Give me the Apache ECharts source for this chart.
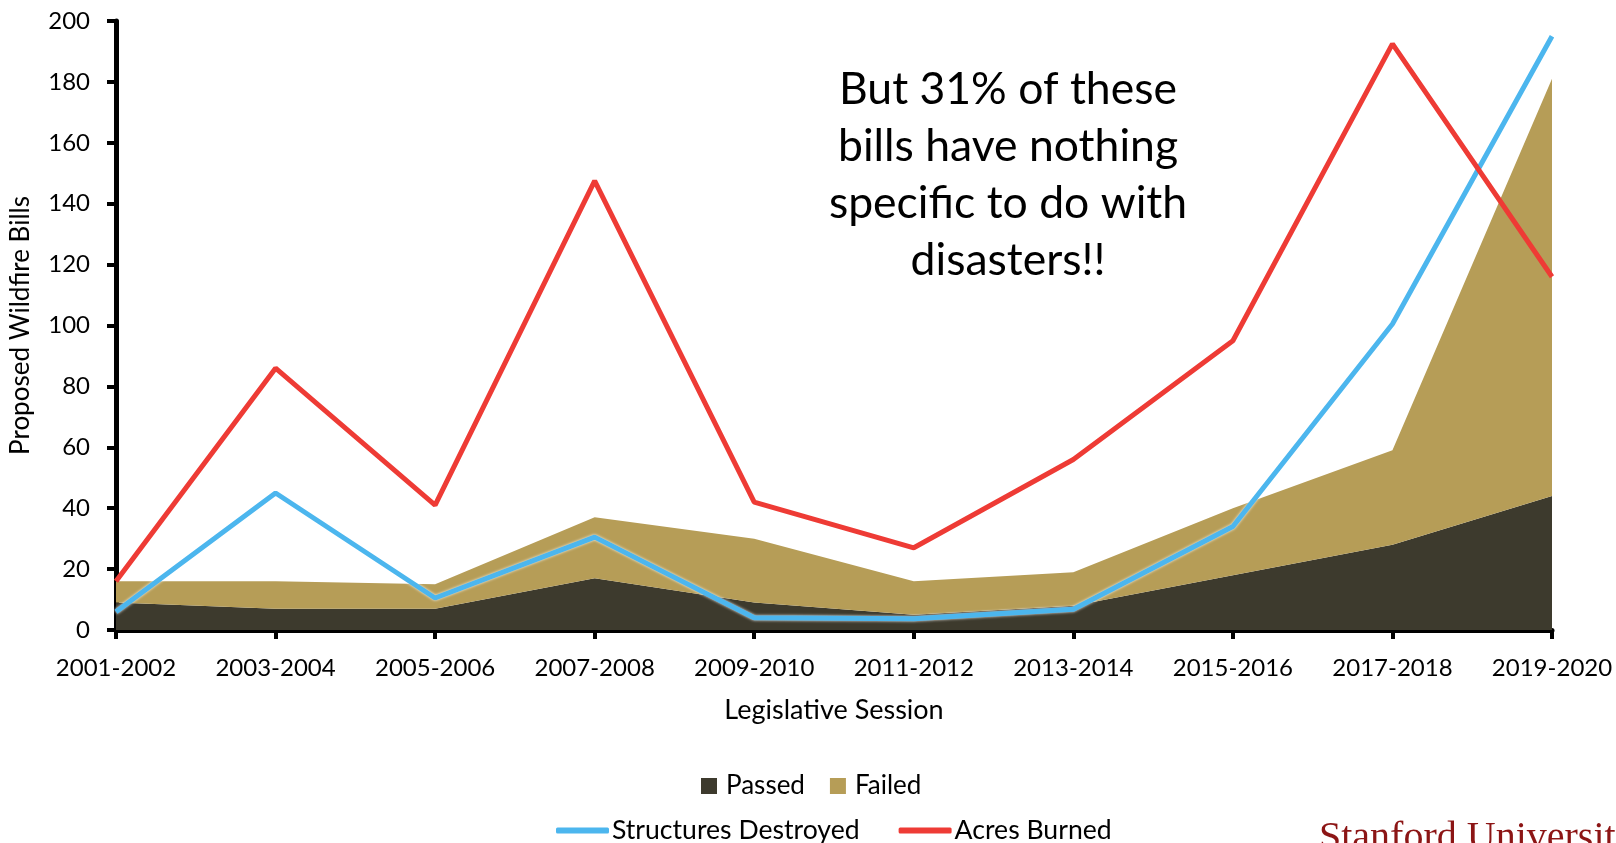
<!DOCTYPE html>
<html>
<head>
<meta charset="utf-8">
<script src="https://cdn.jsdelivr.net/npm/echarts@6/dist/echarts.min.js"></script>
<style>
html,body{margin:0;padding:0;background:#fff;}
#chart{width:1616px;height:843px;}
</style>
</head>
<body>
<div id="chart"></div>
<script>
const sessions = ['2001-2002','2003-2004','2005-2006','2007-2008','2009-2010','2011-2012','2013-2014','2015-2016','2017-2018','2019-2020'];
const passed = [9, 7, 7, 17, 9, 5, 8, 18, 28, 44];
const failed = [7, 9, 8, 20, 21, 11, 11, 22, 31, 137];
const structuresDestroyed = [6, 45, 10.5, 30.5, 4, 3.7, 6.8, 34, 100.5, 195];
const acresBurned = [16, 86, 41, 147.5, 42, 27, 56, 95, 192.5, 116];
const yTicks = {min: 0, max: 200, interval: 20};
const note = 'But 31% of these\nbills have nothing\nspecific to do with\ndisasters!!';

const FONT = 'Lato';
const chart = echarts.init(document.getElementById('chart'));
chart.setOption({
  backgroundColor: '#ffffff',
  animation: false,
  textStyle: {fontFamily: FONT},
  grid: {left: 116, right: 64, top: 21, bottom: 213, containLabel: false},
  legend: [
    {
      data: ['Passed', 'Failed'],
      left: 701, top: 773, padding: 0,
      itemWidth: 16, itemHeight: 16, itemGap: 25,
      icon: 'rect',
      textStyle: {fontFamily: FONT, fontSize: 26, color: '#000', padding: [0, 0, 0, 4]}
    },
    {
      data: ['Structures Destroyed', 'Acres Burned'],
      left: 556, top: 817, padding: 0,
      itemWidth: 53, itemHeight: 6, itemGap: 39,
      icon: 'roundRect',
      textStyle: {fontFamily: FONT, fontSize: 26.6, color: '#000', padding: [0, 0, 0, -2]}
    }
  ],
  xAxis: {
    type: 'category',
    data: sessions,
    boundaryGap: false,
    name: 'Legislative Session',
    nameLocation: 'middle',
    nameGap: 67,
    nameTextStyle: {fontFamily: FONT, fontSize: 27, color: '#000'},
    axisLine: {lineStyle: {color: '#000', width: 5}},
    axisTick: {show: true, length: 9, lineStyle: {color: '#000', width: 4}, alignWithLabel: true},
    axisLabel: {fontFamily: FONT, fontSize: 24, color: '#000', margin: 26, interval: 0},
    splitLine: {show: false}
  },
  yAxis: {
    type: 'value',
    min: yTicks.min, max: yTicks.max, interval: yTicks.interval,
    name: 'Proposed Wildfire Bills',
    nameLocation: 'middle',
    nameGap: 82,
    nameTextStyle: {fontFamily: FONT, fontSize: 26, color: '#000'},
    axisLine: {show: true, lineStyle: {color: '#000', width: 5}},
    axisTick: {show: true, length: 9, lineStyle: {color: '#000', width: 4}},
    axisLabel: {fontFamily: FONT, fontSize: 24, color: '#000', margin: 26},
    splitLine: {show: false}
  },
  series: [
    {
      name: 'Passed', type: 'line', stack: 'bills', data: passed,
      symbol: 'none', lineStyle: {width: 0}, itemStyle: {color: '#3d3a2d'},
      areaStyle: {color: '#3d3a2d', opacity: 1}, z: 1
    },
    {
      name: 'Failed', type: 'line', stack: 'bills', data: failed,
      symbol: 'none', lineStyle: {width: 0}, itemStyle: {color: '#b69d57'},
      areaStyle: {color: '#b69d57', opacity: 1}, z: 1
    },
    {
      name: 'Structures Destroyed', type: 'line', data: structuresDestroyed,
      symbol: 'none', itemStyle: {color: '#4cb6ee'},
      lineStyle: {color: '#4cb6ee', width: 5, shadowColor: 'rgba(255,255,255,0.9)', shadowBlur: 3}, z: 3
    },
    {
      name: 'Acres Burned', type: 'line', data: acresBurned,
      symbol: 'none', itemStyle: {color: '#ee3b35'},
      lineStyle: {color: '#ee3b35', width: 5}, z: 4
    }
  ],
  graphic: [
    {
      type: 'text', x: 1008, y: 175, z: 10,
      style: {
        text: note, fill: '#000', fontFamily: FONT, fontSize: 44.5, lineHeight: 57,
        align: 'center', verticalAlign: 'middle'
      }
    },
    {
      type: 'text', x: 1319, y: 838, z: 10,
      style: {
        text: 'Stanford University', fill: '#8c1515', fontFamily: 'Liberation Serif', fontSize: 40,
        align: 'left', verticalAlign: 'middle'
      }
    }
  ]
});
</script>
</body>
</html>
